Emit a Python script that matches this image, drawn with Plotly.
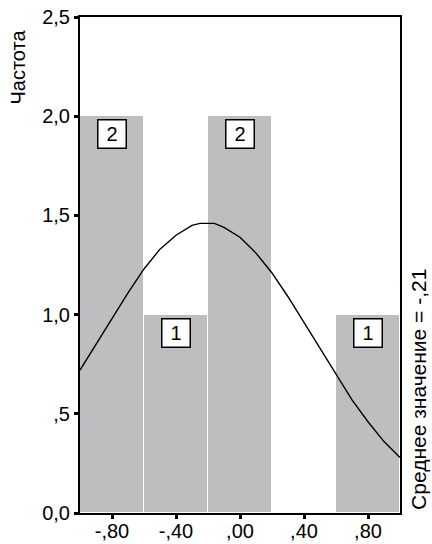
import plotly.graph_objects as go

# Histogram data
bin_centers = [-0.8, -0.4, 0.0, 0.4, 0.8]
counts = [2, 1, 2, 0, 1]
bin_width = 0.4

# Normal curve overlay
curve_x = [-1.0, -0.9, -0.8, -0.7, -0.6, -0.5, -0.4, -0.3, -0.25, -0.2, -0.16, -0.1,
           0.0, 0.1, 0.2, 0.3, 0.4, 0.5, 0.6, 0.7, 0.8, 0.9, 1.0]
curve_y = [0.72, 0.85, 0.98, 1.11, 1.23, 1.33, 1.40, 1.45, 1.46, 1.46, 1.46, 1.44,
           1.39, 1.31, 1.21, 1.09, 0.96, 0.83, 0.70, 0.57, 0.46, 0.36, 0.28]

y_tickvals = [0.0, 0.5, 1.0, 1.5, 2.0, 2.5]
y_ticktext = ["0,0", ",5", "1,0", "1,5", "2,0", "2,5"]
x_tickvals = [-0.8, -0.4, 0.0, 0.4, 0.8]
x_ticktext = ["-,80", "-,40", ",00", ",40", ",80"]

y_title = "Частота"
mean_text = "Среднее значение = -,21"

FONT = "Liberation Sans, Arial, sans-serif"
FS = 20

fig = go.Figure()
fig.add_trace(go.Bar(
    x=bin_centers, y=counts, width=bin_width,
    marker=dict(color="#bdbec0", line=dict(color="white", width=1)),
    showlegend=False, hoverinfo="skip"))
fig.add_trace(go.Scatter(
    x=curve_x, y=curve_y, mode="lines",
    line=dict(color="black", width=1.4), showlegend=False))

for xc, c in zip(bin_centers, counts):
    if c > 0:
        fig.add_annotation(
            x=xc, y=c, xref="x", yref="y", text=str(c), showarrow=False,
            yanchor="top", yshift=-3, width=27, height=27,
            bgcolor="white", bordercolor="black", borderwidth=1.5, borderpad=0,
            font=dict(family=FONT, size=FS, color="black"))

fig.add_annotation(
    x=-0.194, y=0.90, xref="paper", yref="paper", text=y_title,
    showarrow=False, textangle=-90, xanchor="center", yanchor="middle",
    font=dict(family=FONT, size=FS, color="black"))
fig.add_annotation(
    x=1.056, y=0.25, xref="paper", yref="paper", text=mean_text,
    showarrow=False, textangle=-90, xanchor="center", yanchor="middle",
    font=dict(family=FONT, size=FS + 1, color="black"))

fig.update_layout(
    width=432, height=544,
    margin=dict(l=80, r=32, t=17, b=31),
    paper_bgcolor="white", plot_bgcolor="white",
    bargap=0,
    font=dict(family=FONT, size=FS, color="black"),
    xaxis=dict(range=[-1.0, 1.0], tickvals=x_tickvals, ticktext=x_ticktext,
               showgrid=False, zeroline=False, showline=True, linecolor="black",
               linewidth=2, mirror=True, ticks="outside", ticklen=4, tickwidth=3,
               tickcolor="black", tickfont=dict(family=FONT, size=FS),
               ticklabelstandoff=-5, automargin=False),
    yaxis=dict(range=[0, 2.5], tickvals=y_tickvals, ticktext=y_ticktext,
               showgrid=False, zeroline=False, showline=True, linecolor="black",
               linewidth=2, mirror=True, ticks="outside", ticklen=4, tickwidth=3,
               tickcolor="black", tickfont=dict(family=FONT, size=FS),
               automargin=False),
)

fig.write_html(
    "out.html",
    config={"displayModeBar": False},
    post_script="document.body.style.margin='0';document.body.style.overflow='hidden';",
)
